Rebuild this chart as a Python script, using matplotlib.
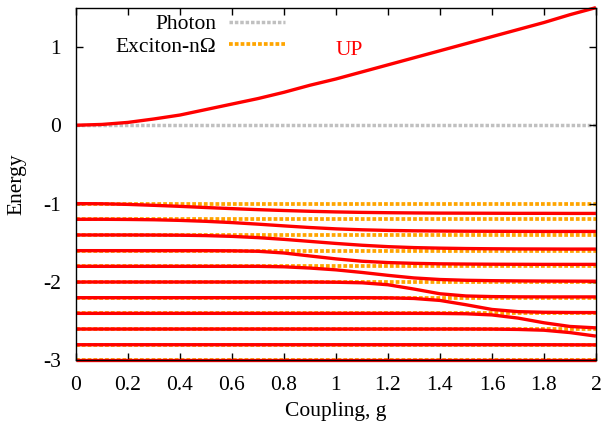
import numpy as np
import matplotlib
matplotlib.use("Agg")
import matplotlib.pyplot as plt

plt.rcParams['font.family'] = ['Liberation Serif', 'DejaVu Serif']

# coupling grid
g = [0.0, 0.1, 0.2, 0.3, 0.4, 0.5, 0.6, 0.7, 0.8, 0.9, 1.0,
     1.1, 1.2, 1.3, 1.4, 1.5, 1.6, 1.7, 1.8, 1.9, 2.0]

# upper polariton
up = [0.00, 0.01, 0.036, 0.08, 0.13, 0.20, 0.27, 0.34, 0.42, 0.51, 0.59,
      0.68, 0.77, 0.86, 0.95, 1.04, 1.13, 1.22, 1.31, 1.41, 1.50]

# lower eigen-branches, one per starting exciton level
b0 = [-1.000, -1.002, -1.010, -1.022, -1.035, -1.050, -1.064, -1.077, -1.088, -1.098, -1.106,
      -1.112, -1.116, -1.119, -1.121, -1.122, -1.123, -1.124, -1.124, -1.125, -1.125]
b1 = [-1.200, -1.200, -1.202, -1.206, -1.214, -1.226, -1.242, -1.262, -1.284, -1.305, -1.322,
      -1.334, -1.342, -1.347, -1.350, -1.352, -1.353, -1.354, -1.355, -1.355, -1.355]
b2 = [-1.400, -1.400, -1.400, -1.401, -1.403, -1.408, -1.418, -1.434, -1.456, -1.482, -1.508,
      -1.531, -1.549, -1.561, -1.568, -1.573, -1.576, -1.578, -1.579, -1.580, -1.580]
b3 = [-1.600, -1.600, -1.600, -1.600, -1.600, -1.600, -1.602, -1.608, -1.630, -1.668, -1.705,
      -1.735, -1.752, -1.762, -1.768, -1.771, -1.773, -1.774, -1.775, -1.775, -1.775]
b4 = [-1.800, -1.800, -1.800, -1.800, -1.800, -1.800, -1.800, -1.800, -1.806, -1.822, -1.845,
      -1.878, -1.915, -1.948, -1.968, -1.978, -1.983, -1.986, -1.988, -1.989, -1.990]
b5 = [-2.000, -2.000, -2.000, -2.000, -2.000, -2.000, -2.000, -2.000, -2.000, -2.000, -2.003,
      -2.010, -2.035, -2.090, -2.150, -2.178, -2.186, -2.189, -2.190, -2.190, -2.190]
b6 = [-2.200, -2.200, -2.200, -2.200, -2.200, -2.200, -2.200, -2.200, -2.200, -2.200, -2.200,
      -2.200, -2.202, -2.210, -2.235, -2.290, -2.350, -2.378, -2.386, -2.389, -2.390]
b7 = [-2.400, -2.400, -2.400, -2.400, -2.400, -2.400, -2.400, -2.400, -2.400, -2.400, -2.400,
      -2.400, -2.400, -2.400, -2.401, -2.405, -2.420, -2.460, -2.520, -2.567, -2.585]
b8 = [-2.600, -2.600, -2.600, -2.600, -2.600, -2.600, -2.600, -2.600, -2.600, -2.600, -2.600,
      -2.600, -2.600, -2.600, -2.600, -2.600, -2.601, -2.605, -2.615, -2.645, -2.690]
b9 = [-2.800, -2.800, -2.800, -2.800, -2.800, -2.800, -2.800, -2.800, -2.800, -2.800, -2.800,
      -2.800, -2.800, -2.800, -2.800, -2.800, -2.800, -2.800, -2.800, -2.801, -2.802]
b10 = [-3.000] * 21

branches = [up, b0, b1, b2, b3, b4, b5, b6, b7, b8, b9, b10]

photon_energy = 0.0
exciton_levels = [-1.0, -1.2, -1.4, -1.6, -1.8, -2.0, -2.2, -2.4, -2.6, -2.8, -3.0]

x_ticks = [0, 0.2, 0.4, 0.6, 0.8, 1, 1.2, 1.4, 1.6, 1.8, 2]
x_tick_labels = ["0", "0.2", "0.4", "0.6", "0.8", "1", "1.2", "1.4", "1.6", "1.8", "2"]
y_ticks = [-3, -2, -1, 0, 1]
y_tick_labels = ["-3", "-2", "-1", "0", "1"]

RED = "#ff0000"
ORANGE = "#ffa500"
GREY = "#c0c0c0"
FS = 15.5

fig = plt.figure(figsize=(6.05, 4.24), dpi=100)
ax = fig.add_axes([0.1256, 0.150, 0.8594, 0.832])

dots = (0, (1.0, 0.55))
ph, = ax.plot([g[0], g[-1]], [photon_energy, photon_energy], color=GREY, lw=2.5,
              linestyle=dots, dash_capstyle='butt', label="Photon", zorder=1)
ex_handle = None
for i, lev in enumerate(exciton_levels):
    h, = ax.plot([g[0], g[-1]], [lev, lev], color=ORANGE, lw=2.7,
                 linestyle=dots, dash_capstyle='butt', zorder=1,
                 label="Exciton-n\u03a9" if i == 0 else None)
    if i == 0:
        ex_handle = h

for br in branches:
    ax.plot(g, br, color=RED, lw=2.4, solid_capstyle='butt', zorder=2, clip_on=False)

ax.text(1.05, 0.95, "UP", color=RED, fontsize=FS, ha='center', va='center')

ax.set_xlim(0, 2)
ax.set_ylim(-3, 1.5)
ax.set_xticks(x_ticks)
ax.set_xticklabels(x_tick_labels)
ax.set_yticks(y_ticks)
ax.set_yticklabels(y_tick_labels)
ax.tick_params(direction='in', length=5, width=1, top=True, right=True,
               labelsize=FS)
ax.tick_params(axis='x', pad=11)
ax.tick_params(axis='y', pad=11)
for s in ax.spines.values():
    s.set_linewidth(1.0)
    s.set_color('black')
    s.set_zorder(3)

ax.set_xlabel("Coupling, g", fontsize=FS, labelpad=5)
ax.set_ylabel("Energy", fontsize=FS, labelpad=12)

ax.legend(handles=[ph, ex_handle], loc='upper right',
          bbox_to_anchor=(285 / 605, 1 - 14 / 424), bbox_transform=fig.transFigure,
          frameon=False, markerfirst=False, fontsize=FS, handlelength=2.6,
          handletextpad=0.6, labelspacing=0.12, borderpad=0, borderaxespad=0)

fig.savefig("out.png", dpi=100)
